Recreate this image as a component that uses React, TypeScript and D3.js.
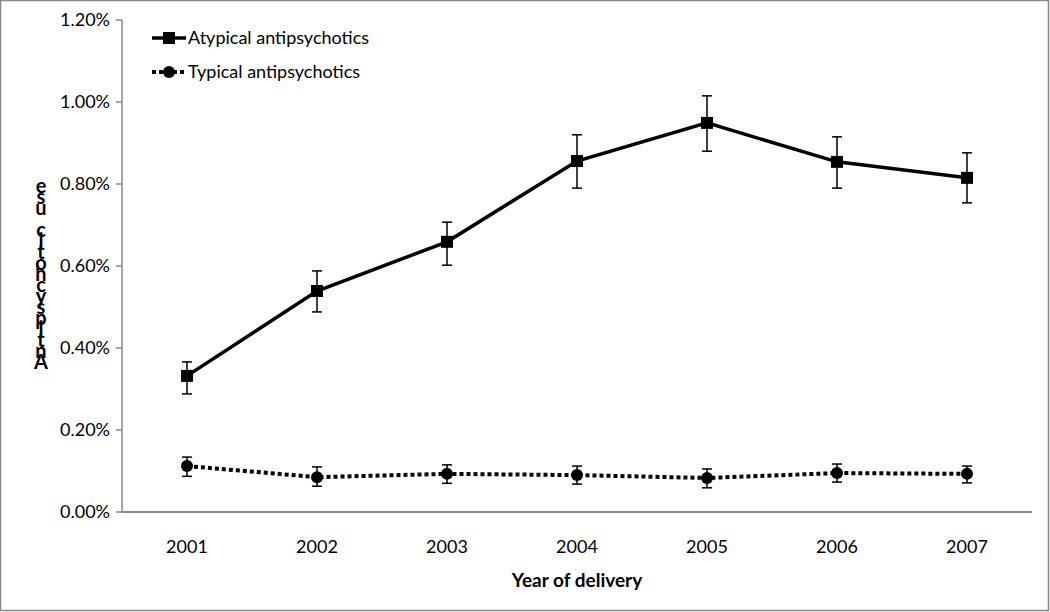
import React from "react";
import * as d3 from "d3";

const years = ["2001", "2002", "2003", "2004", "2005", "2006", "2007"];
const atypical = [0.332, 0.539, 0.659, 0.856, 0.949, 0.854, 0.815];
const atypicalHi = [0.366, 0.588, 0.707, 0.92, 1.015, 0.915, 0.876];
const atypicalLo = [0.288, 0.488, 0.602, 0.79, 0.88, 0.79, 0.754];
const typical = [0.112, 0.085, 0.093, 0.09, 0.083, 0.095, 0.093];
const typicalHi = [0.134, 0.11, 0.115, 0.112, 0.105, 0.117, 0.112];
const typicalLo = [0.087, 0.063, 0.07, 0.068, 0.059, 0.073, 0.071];
const yTicks = [0, 0.2, 0.4, 0.6, 0.8, 1.0, 1.2];
const yLabel = "Antipsychotic use";
const xTitle = "Year of delivery";
const legendNames = ["Atypical antipsychotics", "Typical antipsychotics"];

const W = 1050, H = 612;
const left = 122, right = 1032, top = 20, bottom = 512;
const font = "Lato, 'Open Sans', sans-serif";

export default function App() {
  const x = d3.scaleBand().domain(years).range([left, right]);
  const y = d3.scaleLinear().domain([0, 1.2]).range([bottom, top]);
  const cx = (yr: string) => (x(yr) as number) + x.bandwidth() / 2;
  const line = d3.line<number>().x((_, i) => cx(years[i])).y((v) => y(v));
  const letters = yLabel.split("").reverse();

  const errBars = (hi: number[], lo: number[], key: string) =>
    years.map((yr, i) => (
      <g key={key + yr} stroke="#000" strokeWidth={1.5}>
        <line x1={cx(yr)} x2={cx(yr)} y1={y(hi[i])} y2={y(lo[i])} />
        <line x1={cx(yr) - 5} x2={cx(yr) + 5} y1={y(hi[i])} y2={y(hi[i])} />
        <line x1={cx(yr) - 5} x2={cx(yr) + 5} y1={y(lo[i])} y2={y(lo[i])} />
      </g>
    ));

  return (
    <svg width={W} height={H} style={{ position: "absolute", left: 0, top: 0 }}>
      <rect x={0.5} y={0.5} width={W - 2} height={H - 2} fill="#fff" stroke="#888" strokeWidth={1.5} />
      {/* axes */}
      <line x1={left} x2={left} y1={top} y2={bottom} stroke="#888" strokeWidth={1.5} />
      <line x1={left} x2={right} y1={bottom} y2={bottom} stroke="#888" strokeWidth={2} />
      {yTicks.map((t) => (
        <g key={t}>
          <line x1={left - 6} x2={left} y1={y(t)} y2={y(t)} stroke="#888" strokeWidth={1.5} />
          <text x={110} y={y(t)} dy="0.35em" textAnchor="end" fontFamily={font} fontSize={18} fill="#000">
            {t.toFixed(2) + "%"}
          </text>
        </g>
      ))}
      {years.map((yr) => (
        <text key={yr} x={cx(yr)} y={553} textAnchor="middle" fontFamily={font} fontSize={18} fill="#000">
          {yr}
        </text>
      ))}
      <text x={(left + right) / 2} y={587} textAnchor="middle" fontFamily={font} fontSize={19} fontWeight="bold">
        {xTitle}
      </text>
      {/* stacked y label: letters in reverse order, upright, tightly packed */}
      <text fontFamily={font} fontSize={20} fontWeight="bold" textAnchor="middle">
        {letters.map((c, i) => (
          <tspan key={i} x={41} y={193 + i * 11}>
            {c}
          </tspan>
        ))}
      </text>
      {/* series */}
      {errBars(atypicalHi, atypicalLo, "a")}
      {errBars(typicalHi, typicalLo, "t")}
      <path d={line(atypical) || ""} fill="none" stroke="#000" strokeWidth={3.5} />
      <path d={line(typical) || ""} fill="none" stroke="#000" strokeWidth={4} strokeDasharray="4,3" />
      {atypical.map((v, i) => (
        <rect key={"as" + i} x={cx(years[i]) - 6} y={y(v) - 6} width={12} height={12} fill="#000" />
      ))}
      {typical.map((v, i) => (
        <circle key={"tc" + i} cx={cx(years[i])} cy={y(v)} r={6} fill="#000" />
      ))}
      {/* legend */}
      <g>
        <line x1={152} x2={186} y1={38} y2={38} stroke="#000" strokeWidth={3.5} />
        <rect x={163} y={32} width={12} height={12} fill="#000" />
        <text x={188} y={38} dy="0.35em" fontFamily={font} fontSize={18}>{legendNames[0]}</text>
        <line x1={152} x2={186} y1={72} y2={72} stroke="#000" strokeWidth={4} strokeDasharray="4,3" />
        <circle cx={169} cy={72} r={6} fill="#000" />
        <text x={188} y={72} dy="0.35em" fontFamily={font} fontSize={18}>{legendNames[1]}</text>
      </g>
    </svg>
  );
}
